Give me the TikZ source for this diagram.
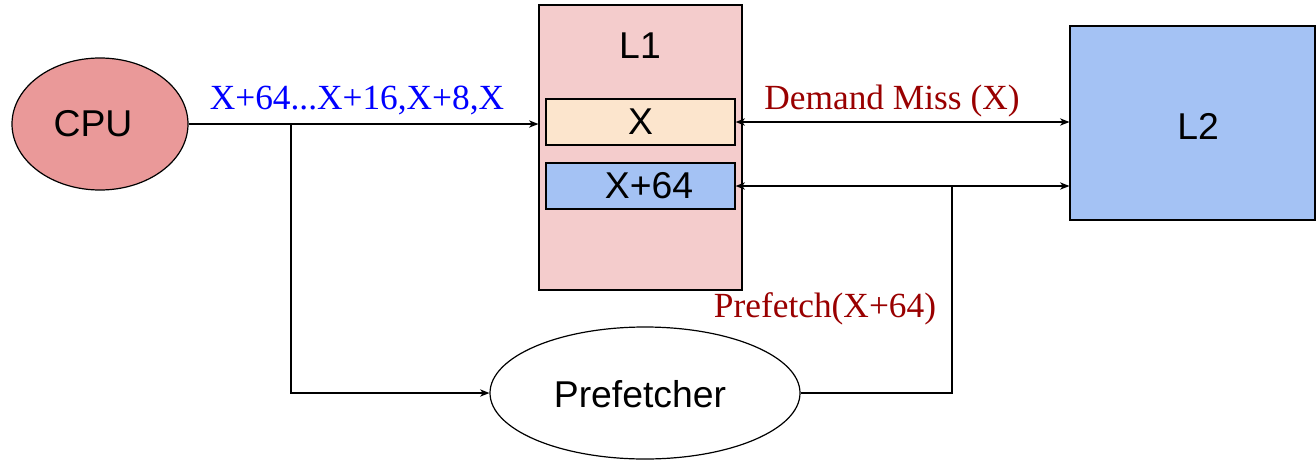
\documentclass[tikz,border=0pt]{standalone}
\usepackage{fontspec}
\setmainfont{Liberation Sans}
\newfontfamily\labelfont{Liberation Serif}
\usetikzlibrary{arrows.meta,shapes.geometric}
\definecolor{cpufill}{RGB}{234,153,153}
\definecolor{lonefill}{RGB}{244,204,204}
\definecolor{xfill}{RGB}{252,229,205}
\definecolor{bluefill}{RGB}{164,194,244}
\definecolor{darkred}{RGB}{153,0,0}
\definecolor{pureblue}{RGB}{0,0,255}
\begin{document}
\begin{tikzpicture}[x=0.75pt,y=-0.75pt,
  box/.style={draw=black,line width=0.9pt,inner sep=0pt,font=\fontsize{28}{30}\selectfont},
  oval/.style={ellipse,draw=black,line width=0.9pt,inner sep=0pt,font=\fontsize{28}{30}\selectfont},
  txt/.style={inner sep=0pt,font=\fontsize{28}{30}\selectfont},
  lbl/.style={inner sep=0pt,font=\labelfont\fontsize{26.5}{30}\selectfont},
  arr/.style={draw=black,line width=0.9pt,-{Stealth[length=7pt,width=5.5pt,inset=2pt]}},
  biarr/.style={draw=black,line width=0.9pt,{Stealth[length=7pt,width=5.5pt,inset=2pt]}-{Stealth[length=7pt,width=5.5pt,inset=2pt]}},
  plain/.style={draw=black,line width=0.9pt}]
\useasboundingbox (0,0) rectangle (1316,468);
\node[oval,fill=cpufill,minimum width=132pt,minimum height=99pt] (cpu) at (100,124) {};
\node[txt] (cput) at (93,124) {CPU};
\node[box,fill=lonefill,minimum width=152.25pt,minimum height=213.75pt] (l1) at (640.5,147.5) {};
\node[txt] (l1t) at (640,46) {L1};
\node[box,fill=xfill,minimum width=141.75pt,minimum height=34.5pt] (xb) at (640.5,122) {X};
\node[box,fill=bluefill,minimum width=141.75pt,minimum height=34.5pt] (xs) at (640.5,186) {};
\node[txt] (xst) at (649,186) {X+64};
\node[box,fill=bluefill,minimum width=183.75pt,minimum height=145.5pt] (l2) at (1192.5,123) {};
\node[txt] (l2t) at (1198,126) {L2};
\node[oval,fill=white,minimum width=232.5pt,minimum height=99pt] (pf) at (645,393) {};
\node[txt] (pft0) at (640,394) {Prefetcher};
\node[lbl,text=pureblue] (seq) at (357,100) {X+64...X+16,X+8,X};
\node[lbl,text=darkred] (dm) at (892,101) {Demand Miss (X)};
\node[lbl,text=darkred] (pft) at (825,309) {Prefetch(X+64)};
\coordinate (br) at (291,124);
\coordinate (pj) at (952,186);
\draw[arr] (cpu.east) -- (cpu.east -| l1.west);
\draw[arr] (br) |- (pf.west);
\draw[biarr] (xb.east) -- (xb.east -| l2.west);
\draw[biarr] (xs.east) -- (xs.east -| l2.west);
\draw[plain] (pf.east) -| (pj);
\end{tikzpicture}
\end{document}
